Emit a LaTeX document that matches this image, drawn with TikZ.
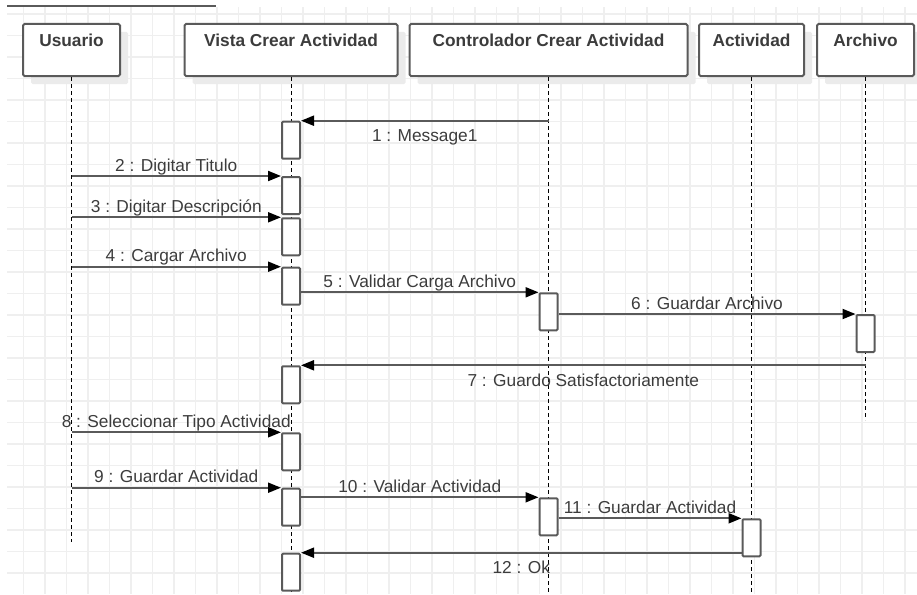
\documentclass[tikz,border=0pt]{standalone}
\usepackage{fontspec}
\setmainfont{Liberation Sans}
\usetikzlibrary{arrows.meta}
\usetikzlibrary{shadows}
\definecolor{edge}{HTML}{5A5A5A}
\definecolor{ink}{HTML}{3C3C3C}
\definecolor{gridc}{HTML}{EFEFEF}

\begin{document}
\begin{tikzpicture}[x=1pt,y=-1pt,
  lifehead/.style={draw=edge,line width=2pt,rounded corners=1.5pt,fill=white,
    drop shadow={shadow xshift=8pt,shadow yshift=-8pt,fill=black!8,opacity=1},
    font=\fontsize{17.3}{20}\selectfont\bfseries,text=ink,anchor=base,
    inner ysep=0pt,text height=22.5pt,text depth=29.5pt},
  act/.style={draw=edge,line width=2pt,rounded corners=1pt,fill=white,inner sep=0pt,
    minimum width=18pt,minimum height=37pt,anchor=north},
  life/.style={black,line width=1pt,dash pattern=on 4pt off 3pt},
  msg/.style={edge,line width=2pt,-{Triangle[length=13pt,width=10pt,color=black]}},
  lbl/.style={anchor=base,inner sep=0pt,font=\fontsize{17.3}{20}\selectfont,text=ink},
  lblup/.style={lbl,yshift=5pt},
  lbldn/.style={lbl,yshift=-21pt}]
\def\g{21.5}
\useasboundingbox (0,0) rectangle (917,594);
\foreach \i in {1,...,42} \draw[gridc,line width=1.5pt] ({1.8+\g*\i},7) -- ({1.8+\g*\i},594);
\foreach \j in {0,...,26} \draw[gridc,line width=1.5pt] (7,{14+\g*\j}) -- (917,{14+\g*\j});
\draw[edge,line width=2pt] (7,6) -- (216,6);

\node[lifehead,minimum width=97pt] (u) at (71.5,46.5) {Usuario};
\node[lifehead,minimum width=213pt] (v) at (291,46.5) {Vista Crear Actividad};
\node[lifehead,minimum width=278pt] (c) at (548.5,46.5) {Controlador Crear Actividad};
\node[lifehead,minimum width=105pt] (t) at (751.5,46.5) {Actividad};
\node[lifehead,minimum width=97pt] (r) at (865.5,46.5) {Archivo};

\foreach \n/\e in {u/542,v/594,c/594,t/594,r/420} {
  \coordinate (\n-end) at (\n.south |- 0,\e);
  \draw[life] (\n.south) -- (\n-end);
}

\foreach \n/\y in {1/120.7,2/176,3/217.3,4/266.7,5/365.3,6/432.3,7/487.7,8/552.7}
  \node[act] (a\n) at (v.south |- 0,\y) {};
\node[act] (c1) at (c.south |- 0,292.3) {};
\node[act] (c2) at (c.south |- 0,497.3) {};
\node[act] (r1) at (r.south |- 0,314) {};
\node[act] (t1) at (t.south |- 0,518.3) {};

\draw[msg] (c.south |- a1.north) -- (a1.north east) node[midway,lbldn] {1 : Message1};
\draw[msg] (u.south |- a2.north) -- (a2.north west) node[midway,lblup] {2 : Digitar Titulo};
\draw[msg] (u.south |- a3.north) -- (a3.north west) node[midway,lblup] {3 : Digitar Descripción};
\draw[msg] (u.south |- a4.north) -- (a4.north west) node[midway,lblup] {4 : Cargar Archivo};
\draw[msg] (a4.east |- c1.north) -- (c1.north west) node[midway,lblup] {5 : Validar Carga Archivo};
\draw[msg] (c1.east |- r1.north) -- (r1.north west) node[midway,lblup] {6 : Guardar Archivo};
\draw[msg] (r.south |- a5.north) -- (a5.north east) node[midway,lbldn] {7 : Guardo Satisfactoriamente};
\draw[msg] (u.south |- a6.north) -- (a6.north west) node[midway,lblup] {8 : Seleccionar Tipo Actividad};
\draw[msg] (u.south |- a7.north) -- (a7.north west) node[midway,lblup] {9 : Guardar Actividad};
\draw[msg] (a7.east |- c2.north) -- (c2.north west) node[midway,lblup] {10 : Validar Actividad};
\draw[msg] (c2.east |- t1.north) -- (t1.north west) node[midway,lblup] {11 : Guardar Actividad};
\draw[msg] (t1.west |- a8.north) -- (a8.north east) node[midway,lbldn] {12 : Ok};
\end{tikzpicture}
\end{document}
